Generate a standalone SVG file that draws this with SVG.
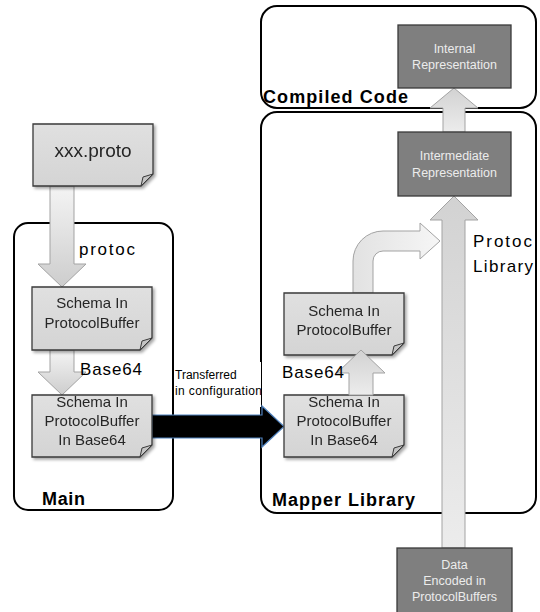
<svg xmlns="http://www.w3.org/2000/svg" width="540" height="612" viewBox="0 0 540 612">
<defs>
<style>
.cont{fill:none;stroke:#000;stroke-width:2}
.doc{fill:url(#docg);stroke:#3a3a3a;stroke-width:1.3}
.fold{fill:#c4c4c4;stroke:#3a3a3a;stroke-width:1}
.dark{fill:#7f7f7f;stroke:#3a3a3a;stroke-width:1.3}
.arr{fill:url(#arrg);stroke:#a3a3a3;stroke-width:1}
.arru{fill:url(#arrgu);stroke:#a3a3a3;stroke-width:1}
.dt{font-family:"Liberation Sans",Arial,sans-serif;font-size:15px;fill:#262626;text-anchor:middle}
.lt{font-family:"Liberation Sans",Arial,sans-serif;font-size:12.5px;fill:#ececec;text-anchor:middle}
.lab{font-family:"Liberation Sans",Arial,sans-serif;font-size:17px;fill:#000}
.big{font-family:"Liberation Sans",Arial,sans-serif;font-size:18px;font-weight:bold;fill:#000}
.sm{font-family:"Liberation Sans",Arial,sans-serif;font-size:12px;fill:#000}
</style>
<linearGradient id="docg" x1="0" y1="0" x2="0" y2="1"><stop offset="0" stop-color="#e0e0e0"/><stop offset="1" stop-color="#d4d4d4"/></linearGradient>
<linearGradient id="arrg" x1="0" y1="0" x2="0" y2="1"><stop offset="0" stop-color="#f4f4f4"/><stop offset="1" stop-color="#cdcdcd"/></linearGradient>
<linearGradient id="arrgu" x1="0" y1="1" x2="0" y2="0"><stop offset="0" stop-color="#ececec"/><stop offset="1" stop-color="#d2d2d2"/></linearGradient>
<linearGradient id="arrgc" x1="0" y1="0" x2="1" y2="0"><stop offset="0" stop-color="#e2e2e2"/><stop offset="1" stop-color="#f6f6f6"/></linearGradient>
<filter id="sh" x="-10%" y="-10%" width="130%" height="130%"><feDropShadow dx="2" dy="2" stdDeviation="1.5" flood-color="#000" flood-opacity="0.35"/></filter>
</defs>

<g id="containers">
<g id="main"><rect class="cont" x="14" y="223" width="159" height="287" rx="14"/></g>
<g id="compiled-code"><rect class="cont" x="261" y="6" width="275" height="102" rx="16"/></g>
<g id="mapper-library"><rect class="cont" x="261" y="112" width="275" height="401" rx="16"/></g>
</g>

<g id="connectors">
<path class="arr" d="M50,186 H74 V264 H86 L62,287 L38,264 H50 Z"/>
<path class="arr" d="M50,350 H74 V372 H86 L62,395 L38,372 H50 Z"/>
<path class="arru" d="M442,548 V220 H430 L454,196 L478,220 H465 V548 Z"/>
<path class="arru" d="M443,132 V108 H430 L454,88 L478,108 H465 V132 Z"/>
<path fill="url(#arrgc)" stroke="#a3a3a3" stroke-width="1" d="M353,293 V261 A30,30 0 0 1 383,231 H420 V223 L440,241 L420,259 V251 H383 A10,10 0 0 0 373,261 V293 Z"/>
<path d="M152,415 H262 V406 L284,426.5 L262,447 V438 H152 Z" fill="#000" stroke="#4f81bd" stroke-width="1.2"/>
</g>

<g id="transfer-label">
<rect x="174" y="362" width="87" height="45" fill="#fff"/>
<text class="sm" x="175" y="379">Transferred</text>
<text class="sm" x="175" y="395" textLength="87">in configuration</text>
</g>

<g id="xxx-proto" filter="url(#sh)">
<path class="doc" d="M33,124 H153 V174 L141,186 H33 Z"/>
<path class="fold" d="M153,174 L143,177 L141,186 Z"/>
<text class="dt" x="93" y="157" style="font-size:19px">xxx.proto</text>
</g>

<g id="schema-left" filter="url(#sh)">
<path class="doc" d="M32,287 H152 V338 L140,350 H32 Z"/>
<path class="fold" d="M152,338 L142,341 L140,350 Z"/>
<text class="dt" x="92" y="308">Schema In</text>
<text class="dt" x="92" y="328">ProtocolBuffer</text>
</g>

<g id="schema-b64-left" filter="url(#sh)">
<path class="doc" d="M32,395 H152 V445 L140,457 H32 Z"/>
<path class="fold" d="M152,445 L142,448 L140,457 Z"/>
<text class="dt" x="92" y="407">Schema In</text>
<text class="dt" x="92" y="426">ProtocolBuffer</text>
<text class="dt" x="92" y="445">In Base64</text>
</g>

<g id="schema-b64-right" filter="url(#sh)">
<path class="doc" d="M284,395 H404 V445 L392,457 H284 Z"/>
<path class="fold" d="M404,445 L394,448 L392,457 Z"/>
<text class="dt" x="344" y="407">Schema In</text>
<text class="dt" x="344" y="426">ProtocolBuffer</text>
<text class="dt" x="344" y="445">In Base64</text>
</g>

<g id="schema-right" filter="url(#sh)">
<path class="doc" d="M284,293 H404 V343 L392,355 H284 Z"/>
<path class="fold" d="M404,343 L394,346 L392,355 Z"/>
<text class="dt" x="344" y="316">Schema In</text>
<text class="dt" x="344" y="335">ProtocolBuffer</text>
</g>

<g id="base64-up-arrow">
<path class="arru" d="M349,395 V373 H337 L361,350 L385,373 H373 V395 Z"/>
</g>

<g id="internal-rep">
<rect class="dark" x="398" y="25" width="113" height="63"/>
<text class="lt" x="454.5" y="53">Internal</text>
<text class="lt" x="454.5" y="69">Representation</text>
</g>

<g id="intermediate-rep">
<rect class="dark" x="398" y="132" width="113" height="64"/>
<text class="lt" x="454.5" y="160">Intermediate</text>
<text class="lt" x="454.5" y="177">Representation</text>
</g>

<g id="data-encoded">
<rect class="dark" x="397" y="548" width="115" height="72"/>
<text class="lt" x="454.5" y="569">Data</text>
<text class="lt" x="454.5" y="585">Encoded in</text>
<text class="lt" x="454.5" y="601">ProtocolBuffers</text>
</g>

<g id="labels">
<text class="lab" x="79" y="255" textLength="56">protoc</text>
<text class="lab" x="80" y="375" textLength="62">Base64</text>
<text class="lab" x="282" y="378" textLength="62">Base64</text>
<text class="lab" x="473" y="247" textLength="59">Protoc</text>
<text class="lab" x="473" y="272" textLength="60">Library</text>
<text class="big" x="42" y="505" textLength="43">Main</text>
<text class="big" x="263" y="103" textLength="145">Compiled Code</text>
<text class="big" x="272" y="506" textLength="143">Mapper Library</text>
</g>
</svg>
